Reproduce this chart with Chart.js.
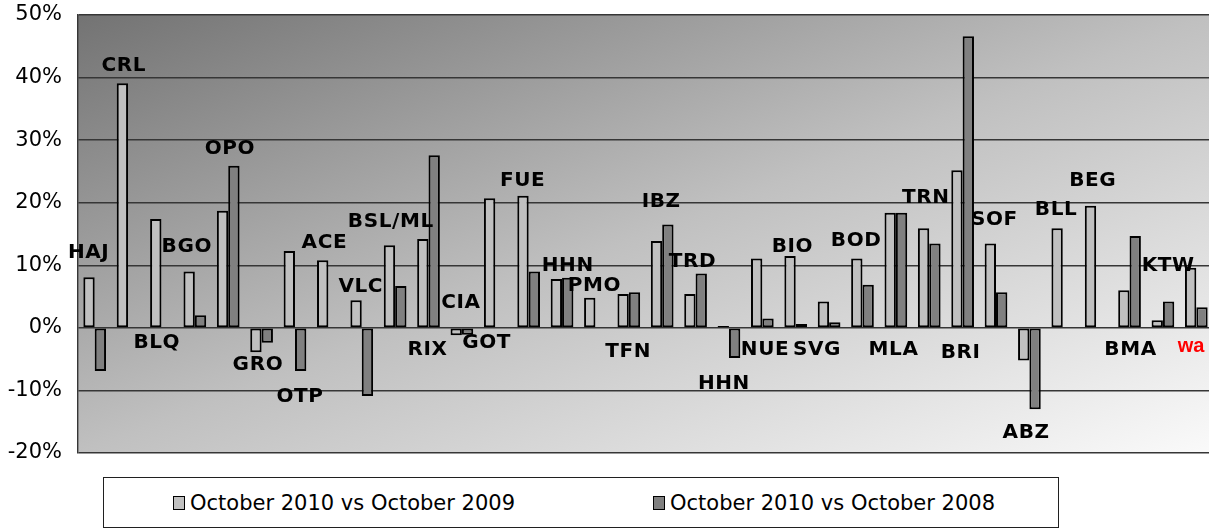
<!DOCTYPE html>
<html>
<head>
<meta charset="utf-8">
<script src="https://cdn.jsdelivr.net/npm/chart.js@4.4.1/dist/chart.umd.min.js"></script>
<style>
  html, body { margin: 0; padding: 0; background: #ffffff; overflow: hidden; }
  #wrap { position: relative; width: 1214px; height: 529px; }
  #legend { position: absolute; left: 103px; top: 477px; width: 954px; height: 49px;
            border: 1px solid #202020; background: #fff; font-family: "DejaVu Sans", Verdana, sans-serif;
            font-size: 21px; color: #000; }
  .item { position: absolute; top: 0; height: 49px; display: flex; align-items: center; white-space: nowrap; }
  .sw { width: 10px; height: 12px; border: 1.5px solid #000; margin-right: 5px; }
</style>
</head>
<body>
<div id="wrap">
  <canvas id="c" width="1214" height="529"></canvas>
  <div id="legend"></div>
</div>
<script>
// ---- data ----
const categories = ["HAJ","CRL","BLQ","BGO","OPO","GRO","OTP","ACE","VLC","BSL/ML","RIX","CIA","GOT","FUE","HHN","PMO","TFN","IBZ","TRD","HHN","NUE","BIO","SVG","BOD","MLA","TRN","BRI","SOF","ABZ","BLL","BEG","BMA","KTW","wa"];
const seriesNames = ["October 2010 vs October 2009", "October 2010 vs October 2008"];
const vs2009 = [8.1, 39.1, 17.4, 9.0, 18.7, -3.9, 12.3, 10.8, 4.4, 13.2, 14.2, -1.2, 20.7, 21.1, 7.8, 4.8, 5.4, 13.9, 5.4, 0.3, 11.1, 11.5, 4.2, 11.1, 18.4, 15.9, 25.2, 13.5, -5.2, 15.9, 19.5, 6.0, 1.2, 9.6];
const vs2008 = [-6.9, null, null, 2.0, 25.9, -2.4, -6.9, null, -10.9, 6.7, 27.6, -1.1, null, 9.0, 8.0, null, 5.7, 16.5, 8.7, -4.8, 1.5, 0.6, 0.9, 6.9, 18.4, 13.5, 46.6, 5.7, -13.0, null, null, 14.7, 4.2, 3.3];
const yTicks = { min: -20, max: 50, step: 10 };
// label anchors: value (in %) and offset in category widths
const labelValue = [12.1, 42, -2.2, 13.1, 28.7, -5.8, -10.9, 13.8, 6.8, 17.1, -3.4, 4.1, -2.3, 23.6, 10.0, 6.9, -3.7, 20.3, 10.7, -8.8, -3.3, 13.1, -3.3, 14.0, -3.3, 21.0, -3.9, 17.5, -16.6, 19.1, 23.6, -3.4, 10.0, -2.8];
const labelShift = [-0.18, -0.13, -0.14, -0.24, 0.05, -0.11, 0.15, -0.12, -0.03, -0.13, -0.03, -0.03, -0.26, -0.18, 0.17, -0.03, -0.02, -0.03, -0.09, -0.15, 0.08, -0.10, -0.36, -0.19, -0.07, -0.10, -0.06, -0.05, -0.10, -0.20, -0.10, 0.03, 0.16, -0.16];
const highlightLabel = "wa";

// ---- styles ----
const fills = ["#c0c0c0", "#808080"];

const bgPlugin = {
  id: 'bg',
  beforeDraw(chart) {
    const { ctx, chartArea: a } = chart;
    ctx.save();
    ctx.translate(a.left, a.top);
    ctx.scale(a.right - a.left, a.bottom - a.top);
    const g = ctx.createLinearGradient(0, 0, 1, 1);
    g.addColorStop(0, '#737373');
    g.addColorStop(0.5, '#c0c0c0');
    g.addColorStop(1, '#fafafa');
    ctx.fillStyle = g;
    ctx.fillRect(0, 0, 1, 1);
    ctx.restore();
  }
};

const labelPlugin = {
  id: 'catLabels',
  afterDatasetsDraw(chart) {
    const { ctx, scales: { x, y } } = chart;
    const cw = x.getPixelForValue(1) - x.getPixelForValue(0);
    ctx.save();
    ctx.textAlign = 'center';
    ctx.textBaseline = 'middle';
    categories.forEach((c, i) => {
      const px = x.getPixelForValue(i) + labelShift[i] * cw;
      const py = y.getPixelForValue(labelValue[i]);
      if (c === highlightLabel) {
        ctx.fillStyle = '#ff0000';
        ctx.letterSpacing = '0px';
        ctx.font = 'bold 20px "Liberation Sans", Arial, sans-serif';
      } else {
        ctx.fillStyle = '#000000';
        ctx.letterSpacing = '0.6px';
        ctx.font = 'bold 20px "DejaVu Sans", Verdana, sans-serif';
      }
      ctx.fillText(c, px, py + 1);
    });
    ctx.restore();
  }
};

new Chart(document.getElementById('c'), {
  type: 'bar',
  data: {
    labels: categories,
    datasets: [
      { label: seriesNames[0], data: vs2009, backgroundColor: fills[0], borderColor: '#000', borderWidth: 2, borderSkipped: false },
      { label: seriesNames[1], data: vs2008, backgroundColor: fills[1], borderColor: '#000', borderWidth: 2, borderSkipped: false }
    ]
  },
  options: {
    responsive: false,
    animation: false,
    events: [],
    layout: { padding: { top: 15, bottom: 76, right: 1, left: 0 } },
    datasets: { bar: { categoryPercentage: 0.68, barPercentage: 1.0 } },
    plugins: { legend: { display: false }, tooltip: { enabled: false } },
    scales: {
      x: { display: false, grid: { display: false } },
      y: {
        min: yTicks.min, max: yTicks.max,
        afterFit(s) { s.width = 78; s.paddingTop = 0; s.paddingBottom = 0; },
        ticks: {
          stepSize: yTicks.step,
          padding: 16,
          color: '#000',
          font: { family: '"DejaVu Sans", Verdana, sans-serif', size: 21 },
          callback: v => v + '%'
        },
        grid: { color: '#363636', lineWidth: 1.4, drawTicks: false },
        border: { display: true, color: '#363636', width: 1.4 }
      }
    }
  },
  plugins: [bgPlugin, labelPlugin]
});

// HTML legend
const lg = document.getElementById('legend');
const itemLeft = [69, 549];
seriesNames.forEach((n, i) => {
  const d = document.createElement('div');
  d.className = 'item';
  d.style.left = itemLeft[i] + 'px';
  const s = document.createElement('span');
  s.className = 'sw';
  s.style.background = fills[i];
  const t = document.createElement('span');
  t.textContent = n;
  d.appendChild(s); d.appendChild(t);
  lg.appendChild(d);
});
</script>
</body>
</html>
